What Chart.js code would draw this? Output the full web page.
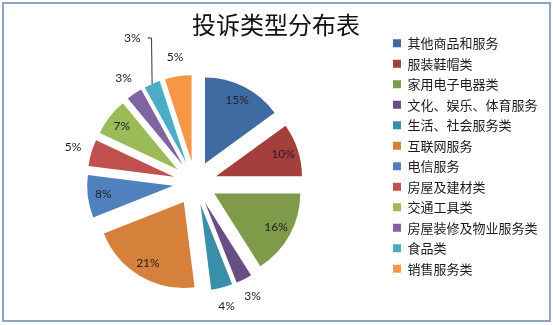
<!DOCTYPE html>
<html>
<head>
<meta charset="utf-8">
<title>投诉类型分布表</title>
<script src="https://cdn.jsdelivr.net/npm/chart.js@4.4.1/dist/chart.umd.min.js"></script>
<style>
  html, body { margin: 0; padding: 0; background: #fff; }
  #wrap { position: relative; width: 553px; height: 325px; }
  #frame { position: absolute; left: 2px; top: 2px; width: 549px; height: 320px;
           box-sizing: border-box; border: 2px solid #8fa3c7; pointer-events: none; }
</style>
</head>
<body>
<div id="wrap">
  <canvas id="chart" width="553" height="325"></canvas>
  <div id="frame"></div>
</div>
<script>
// complaint categories, clockwise from 12 o'clock
const categories = [
  '其他商品和服务', '服装鞋帽类', '家用电子电器类', '文化、娱乐、体育服务',
  '生活、社会服务类', '互联网服务', '电信服务', '房屋及建材类',
  '交通工具类', '房屋装修及物业服务类', '食品类', '销售服务类'
];
const percents = [15, 10, 16, 3, 4, 21, 8, 5, 7, 3, 3, 5];
const colors = [
  '#3e6ca2', '#a53f3c', '#7f9b49', '#674f86', '#3b8eaa', '#d6813b',
  '#4f81bd', '#c0504d', '#9bbb59', '#8064a2', '#4bacc6', '#f79646'
];

const EXPLODE = 22;      // how far every slice is pulled out
const calloutIndex = 10; // label that sits further out with a leader line

// draw each arc shifted outward along its middle angle (excel style exploded pie)
const explode = {
  id: 'explode',
  beforeDatasetDraw(chart, args) {
    const ctx = chart.ctx;
    args.meta.data.forEach(arc => {
      const mid = (arc.startAngle + arc.endAngle) / 2;
      ctx.save();
      ctx.translate(Math.cos(mid) * EXPLODE, Math.sin(mid) * EXPLODE);
      arc.draw(ctx);
      ctx.restore();
    });
    return false;
  }
};

// percent labels: inside for the big slices, outside for the small ones
const sliceLabels = {
  id: 'sliceLabels',
  afterDatasetsDraw(chart) {
    const ctx = chart.ctx;
    const arcs = chart.getDatasetMeta(0).data;
    ctx.save();
    ctx.font = '12px Lato';
    ctx.fillStyle = '#222';
    ctx.strokeStyle = '#333';
    ctx.lineWidth = 1;
    ctx.textAlign = 'center';
    ctx.textBaseline = 'middle';
    arcs.forEach((arc, i) => {
      const p = arc.getProps(['x', 'y', 'startAngle', 'endAngle', 'outerRadius'], true);
      const mid = (p.startAngle + p.endAngle) / 2;
      const text = percents[i] + '%';
      let dist;
      if (percents[i] >= 7) dist = EXPLODE + p.outerRadius * 0.82;
      else if (i === calloutIndex) dist = EXPLODE + p.outerRadius + 50;
      else dist = EXPLODE + p.outerRadius + 19;
      const lx = p.x + Math.cos(mid) * dist;
      const ly = p.y + Math.sin(mid) * dist;
      if (i === calloutIndex) {
        const edge = EXPLODE + p.outerRadius;
        const ex = p.x + Math.cos(mid) * edge;
        const ey = p.y + Math.sin(mid) * edge;
        const half = ctx.measureText(text).width / 2;
        ctx.beginPath();
        ctx.moveTo(lx + half + 7, ly);
        ctx.lineTo(lx + half + 11, ly);
        ctx.lineTo(ex, ey);
        ctx.stroke();
      }
      ctx.fillText(text, lx, ly);
    });
    ctx.restore();
  }
};

new Chart(document.getElementById('chart'), {
  type: 'pie',
  data: {
    labels: categories,
    datasets: [{
      data: percents,
      backgroundColor: colors,
      borderWidth: 0,
      radius: 86
    }]
  },
  options: {
    responsive: false,
    animation: false,
    events: [],
    layout: { padding: { left: 4.5, right: 5.5, top: 0, bottom: 12.8 } },
    plugins: {
      title: {
        display: true,
        text: '投诉类型分布表',
        color: '#111',
        font: { family: 'Noto Sans CJK SC', size: 24, weight: 'normal', lineHeight: 1.2 },
        padding: { top: 10.6, bottom: 14.4 }
      },
      legend: {
        position: 'right',
        align: 'center',
        labels: {
          boxWidth: 8,
          boxHeight: 8,
          padding: 7.5,
          color: '#1a1a1a',
          font: { family: 'Noto Sans CJK SC', size: 13, lineHeight: 0.977 }
        }
      },
      tooltip: { enabled: false }
    }
  },
  plugins: [explode, sliceLabels]
});
</script>
</body>
</html>
